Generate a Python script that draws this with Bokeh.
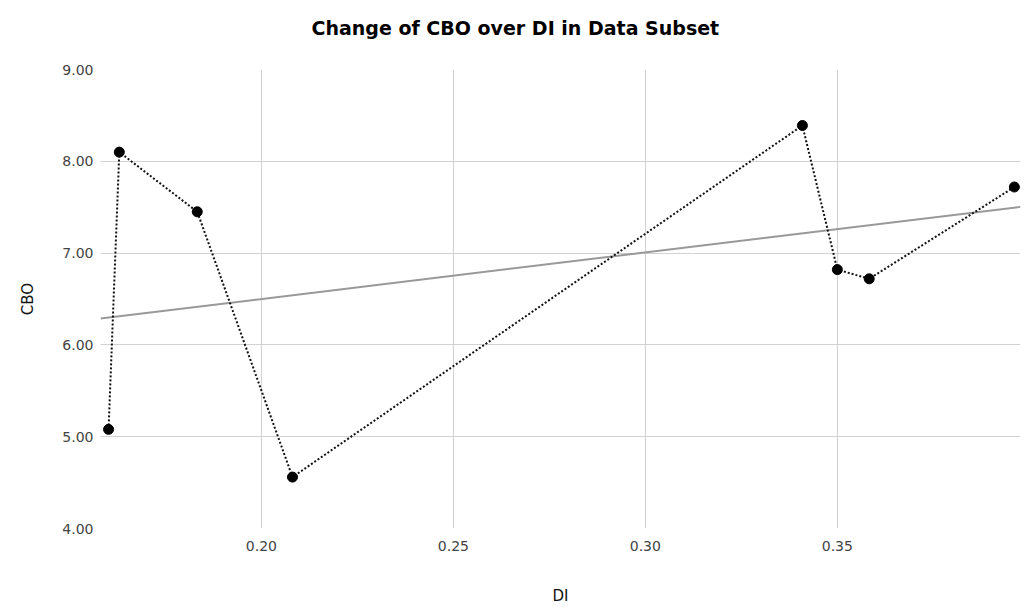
import numpy as np
from bokeh.plotting import figure
from bokeh.models import Range1d, FixedTicker, NumeralTickFormatter, ColumnDataSource, Title
from bokeh.embed import file_html
from bokeh.resources import INLINE

# Data
di = [0.1602, 0.1630, 0.1833, 0.2081, 0.3409, 0.3500, 0.3583, 0.3961]
cbo = [5.08, 8.10, 7.45, 4.56, 8.39, 6.82, 6.72, 7.72]
x_ticks = [0.20, 0.25, 0.30, 0.35]
y_ticks = [4.0, 5.0, 6.0, 7.0, 8.0, 9.0]
x_min, x_max = 0.1581, 0.3977
y_min, y_max = 4.0, 9.0
title_text = "Change of CBO over DI in Data Subset"

slope, intercept = np.polyfit(di, cbo, 1)
fit_x = [x_min, x_max]
fit_y = [intercept + slope * v for v in fit_x]

p = figure(width=1022, height=607, output_backend="svg", toolbar_location=None,
           x_range=Range1d(x_min, x_max), y_range=Range1d(y_min, y_max),
           min_border_left=100, min_border_right=2, min_border_top=69, min_border_bottom=76)

# main (empty) title takes no space
p.title.text = ""
p.title.standoff = 0
p.title.text_font_size = "1px"

# spacer between the frame and the title (first added sits closest to the frame)
p.add_layout(Title(text=" ", text_font_size="12px", standoff=8), "above")
p.add_layout(Title(text=title_text, align="left", offset=211, vertical_align="top",
                   standoff=10, text_font="DejaVu Sans", text_font_style="bold",
                   text_font_size="19px", text_color="#000000"), "above")

p.outline_line_color = None
p.background_fill_color = "white"
p.border_fill_color = "white"

for ax in (p.xaxis, p.yaxis):
    ax.axis_line_color = None
    ax.major_tick_line_color = None
    ax.minor_tick_line_color = None
    ax.major_tick_out = 0
    ax.major_tick_in = 0
    ax.major_label_text_font = "DejaVu Sans"
    ax.major_label_text_font_size = "14px"
    ax.major_label_text_color = "#444444"
    ax.axis_label_text_font = "DejaVu Sans"
    ax.axis_label_text_font_size = "15px"
    ax.axis_label_text_font_style = "normal"
    ax.axis_label_text_color = "#111111"

p.xaxis.ticker = FixedTicker(ticks=x_ticks)
p.yaxis.ticker = FixedTicker(ticks=y_ticks)
p.xaxis.formatter = NumeralTickFormatter(format="0.00")
p.yaxis.formatter = NumeralTickFormatter(format="0.00")
p.xaxis.axis_label = "DI"
p.yaxis.axis_label = "CBO"
p.xaxis.major_label_standoff = 12
p.yaxis.major_label_standoff = 7
p.xaxis.axis_label_standoff = 33
p.yaxis.axis_label_standoff = 22

p.xgrid.ticker = FixedTicker(ticks=x_ticks)
p.ygrid.ticker = FixedTicker(ticks=y_ticks)
p.xgrid.grid_line_color = "#d2d2d2"
p.ygrid.grid_line_color = "#d2d2d2"

p.line(fit_x, fit_y, line_color="#999999", line_width=2)

src = ColumnDataSource(dict(x=di, y=cbo))
p.line("x", "y", source=src, line_color="#111111", line_width=2, line_dash="2 2")
p.scatter("x", "y", source=src, size=10, fill_color="black", line_color="black")

open("out.html", "w").write(file_html(p, INLINE))
